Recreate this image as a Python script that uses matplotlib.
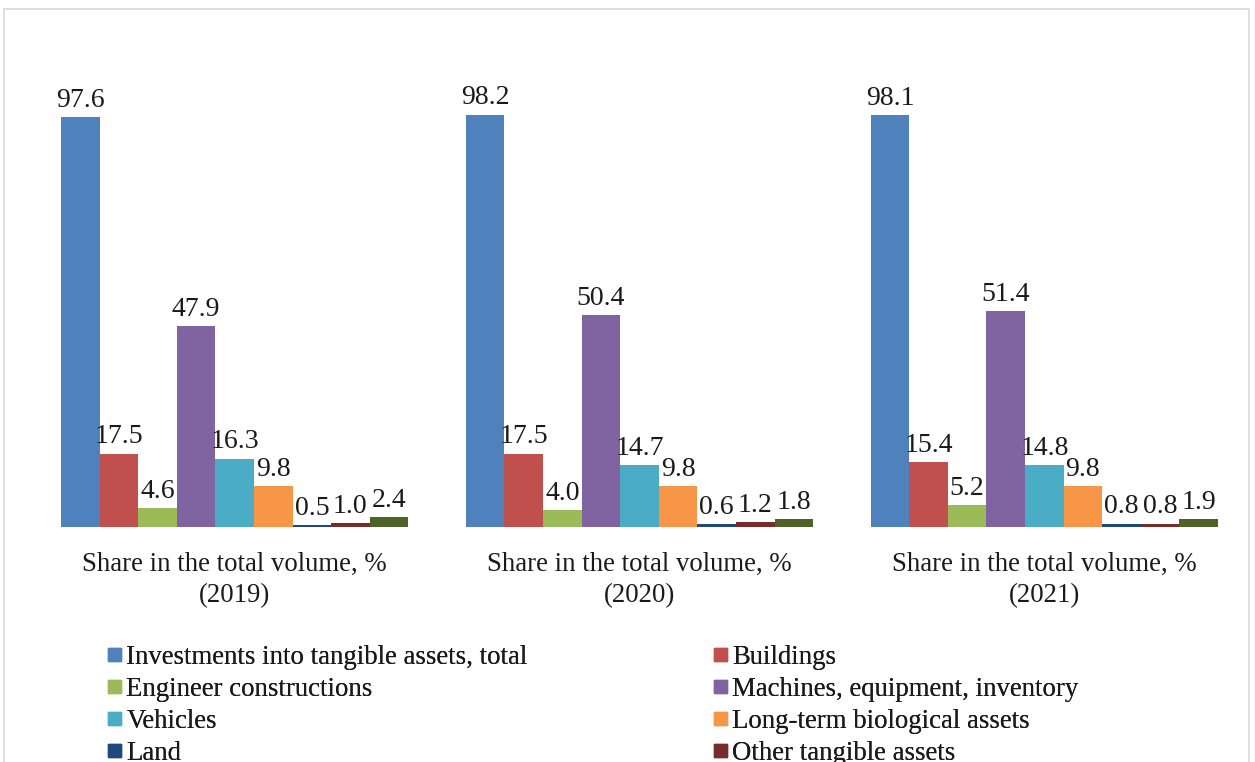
import matplotlib.pyplot as plt
import numpy as np
from matplotlib.patches import Rectangle, Patch

plt.rcParams['font.family'] = ['Liberation Serif', 'DejaVu Serif']

years = ["2019", "2020", "2021"]
series = [
    "Investments into tangible assets, total",
    "Buildings",
    "Engineer constructions",
    "Machines, equipment, inventory",
    "Vehicles",
    "Long-term biological assets",
    "Land",
    "Other tangible assets",
    "Intangible assets",
]
values = [
    [97.6, 98.2, 98.1],
    [17.5, 17.5, 15.4],
    [4.6, 4.0, 5.2],
    [47.9, 50.4, 51.4],
    [16.3, 14.7, 14.8],
    [9.8, 9.8, 9.8],
    [0.5, 0.6, 0.8],
    [1.0, 1.2, 0.8],
    [2.4, 1.8, 1.9],
]
colors = ["#4F81BD", "#C0504D", "#9BBB59", "#8064A2", "#4BACC6",
          "#F79646", "#1F497D", "#772C2A", "#4F6228"]

W, H = 1255, 762
fig = plt.figure(figsize=(W / 100, H / 100), dpi=100)

# light frame around the chart area
fig.patches.append(Rectangle((4 / W, -0.05), 1245 / W, 1.05 - 9 / H,
                             transform=fig.transFigure, fill=False,
                             edgecolor="#d9d9d9", linewidth=1.2))

ax = fig.add_axes([61 / W, 1 - 527 / H, 1157 / W, 420 / H])

x = np.arange(len(years))
n = len(series)
bw = 0.0953
txt = "#1a1a1a"
for i, (name, vals, c) in enumerate(zip(series, values, colors)):
    off = (i - (n - 1) / 2) * bw
    bars = ax.bar(x + off, vals, bw, color=c, label=name)
    ax.bar_label(bars, labels=[f"{v:.1f}" for v in vals], padding=3,
                 fontsize=20, color=txt)

ax.set_xlim(-0.429, 2.429)
ax.set_ylim(0, 100)
ax.set_xticks(x)
ax.set_xticklabels([f"Share in the total volume, %\n({y})" for y in years],
                   fontsize=19.3, color=txt, linespacing=1.3)
ax.tick_params(axis="x", length=0, pad=18)
ax.set_yticks([])
for s in ax.spines.values():
    s.set_visible(False)

handles = [Patch(color=c) for c in colors]
col1 = [0, 2, 4, 6]
col2 = [1, 3, 5, 7]
for cols, xa in ((col1, 97), (col2, 703)):
    leg = fig.legend([handles[k] for k in cols], [series[k] for k in cols],
                     loc="upper left", bbox_to_anchor=(xa / W, 1 - 634 / H),
                     frameon=False, fontsize=19.3, handlelength=0.49,
                     handleheight=0.37, handletextpad=0.2, labelspacing=0.26,
                     labelcolor=txt, borderaxespad=0)
    fig.add_artist(leg)

fig.savefig("out.png", dpi=100)
